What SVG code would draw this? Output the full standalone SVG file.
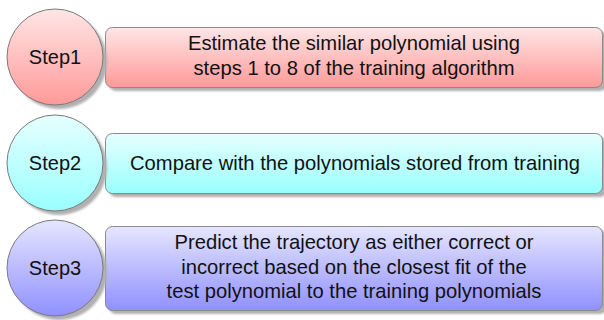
<svg xmlns="http://www.w3.org/2000/svg" width="604" height="320" viewBox="0 0 604 320">
<defs>
<linearGradient id="gRed" x1="0" y1="0" x2="0" y2="1"><stop offset="0" stop-color="#ffe6e6"/><stop offset="1" stop-color="#ff9999"/></linearGradient>
<linearGradient id="gCyan" x1="0" y1="0" x2="0" y2="1"><stop offset="0" stop-color="#e6ffff"/><stop offset="1" stop-color="#99ffff"/></linearGradient>
<linearGradient id="gBlue" x1="0" y1="0" x2="0" y2="1"><stop offset="0" stop-color="#e6e6ff"/><stop offset="1" stop-color="#9090ff"/></linearGradient>
<filter id="blur" x="-10%" y="-10%" width="120%" height="130%"><feGaussianBlur stdDeviation="0.8"/></filter>
</defs>
<style>
.shadow{fill:#b0b0b0;filter:url(#blur)}
.box{stroke:#8a8a8a;stroke-width:1}
.circ{stroke:#7a7a7a;stroke-width:1}
text{font-family:"Liberation Sans",Arial,sans-serif;font-size:20.2px;fill:#111;text-anchor:middle}
.lbl{font-size:20px}
</style>
<g id="box1">
<rect class="shadow" x="109" y="31" width="498" height="60" rx="7"/>
<rect class="box" x="105.5" y="27.5" width="497" height="60" rx="7" fill="url(#gRed)"/>
<text x="354" y="50">Estimate the similar polynomial using</text>
<text x="354" y="75">steps 1 to 8 of the training algorithm</text>
</g>
<g id="box2">
<rect class="shadow" x="109" y="137" width="498" height="60" rx="7"/>
<rect class="box" x="105.5" y="133.5" width="497" height="60" rx="7" fill="url(#gCyan)"/>
<text x="355" y="170">Compare with the polynomials stored from training</text>
</g>
<g id="box3">
<rect class="shadow" x="109" y="230" width="498" height="84" rx="7"/>
<rect class="box" x="105.5" y="226.5" width="497" height="84" rx="7" fill="url(#gBlue)"/>
<text x="354" y="249">Predict the trajectory as either correct or</text>
<text x="354" y="274">incorrect based on the closest fit of the</text>
<text x="354" y="298">test polynomial to the training polynomials</text>
</g>
<g id="step1">
<circle class="shadow" cx="59" cy="61" r="48"/>
<circle class="circ" cx="55" cy="57" r="48" fill="url(#gRed)"/>
<text class="lbl" x="55" y="64">Step1</text>
</g>
<g id="step2">
<circle class="shadow" cx="59" cy="167" r="48"/>
<circle class="circ" cx="55" cy="163" r="48" fill="url(#gCyan)"/>
<text class="lbl" x="55" y="170">Step2</text>
</g>
<g id="step3">
<circle class="shadow" cx="59" cy="272" r="48"/>
<circle class="circ" cx="55" cy="268" r="48" fill="url(#gBlue)"/>
<text class="lbl" x="55" y="275">Step3</text>
</g>
<g id="connectors"></g>
</svg>
